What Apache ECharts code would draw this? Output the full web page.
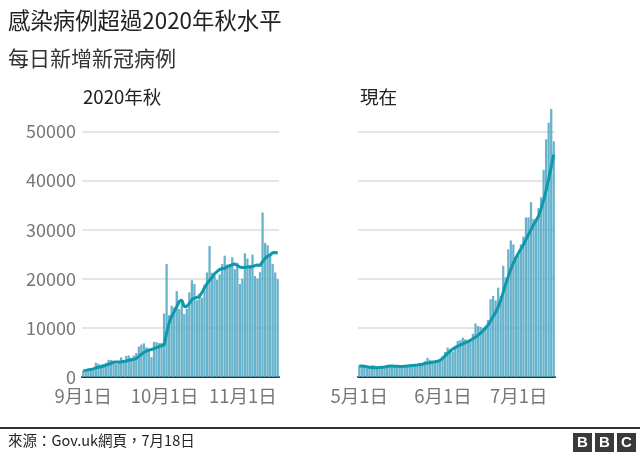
<!DOCTYPE html>
<html>
<head>
<meta charset="utf-8">
<script src="https://cdn.jsdelivr.net/npm/echarts@6/dist/echarts.min.js"></script>
<style>
html, body { margin: 0; padding: 0; background: #fff; }
#chart { width: 640px; height: 453px; }
</style>
</head>
<body>
<div id="chart"></div>
<script>
let autumnMonths = [[9, 30], [10, 31], [11, 17]];
let nowMonths = [[5, 31], [6, 30], [7, 17]];
let autumnTicks = ["9月1日", "10月1日", "11月1日"];
let nowTicks = ["5月1日", "6月1日", "7月1日"];

let autumnCases = [
    1300, 1500, 1700, 1800, 1800, 2900, 2700, 2500, 2650, 2900,
    3500, 3450, 3300, 2650, 3100, 4000, 3400, 4300, 4400, 3900,
    4350, 4900, 6200, 6600, 6850, 6050, 5700, 4050, 7150, 7100,
    6900, 6950, 12900, 23000, 12600, 14500, 14150, 17500, 13850, 15150,
    12850, 13950, 17250, 19700, 18950, 15650, 17000, 16150, 18800, 21300,
    26700, 21250, 20550, 19800, 20900, 23000, 24700, 22900, 23050, 24400,
    21950, 23250, 18950, 20000, 25200, 24150, 22800, 24950, 20550, 20050,
    21350, 33500, 27300, 26850, 25000, 23000, 21300, 19900
];
let autumnAverage = [
    1300, 1350, 1450, 1550, 1650, 1850, 1980, 2100, 2250, 2400,
    2600, 2800, 3000, 3050, 3050, 3050, 3150, 3250, 3400, 3500,
    3600, 3800, 4200, 4600, 5000, 5300, 5500, 5600, 5800, 6000,
    6200, 6400, 6500, 9000, 11000, 12400, 13300, 14300, 15400, 15700,
    14300, 14400, 15000, 15800, 16100, 16200, 16400, 17200, 18200, 19000,
    19700, 20300, 21000, 21500, 21900, 22100, 22100, 22500, 22600, 22900,
    23000, 22700, 22400, 22300, 22300, 22400, 22400, 22500, 22700, 22800,
    22700, 23500, 24200, 24600, 24900, 25300, 25350, 25250
];
let nowCases = [
    2300, 2350, 2100, 2000, 1950, 2400, 2350, 2200, 2100, 2150,
    2150, 2300, 2250, 2450, 2300, 2150, 2100, 2200, 2250, 2350,
    2450, 2550, 2500, 2550, 2600, 2700, 3200, 3900, 3500, 3300,
    3200, 3100, 3300, 4200, 5100, 6000, 5600, 5200, 6300, 7350,
    7500, 8000, 7700, 7400, 7600, 8800, 10900, 10400, 10200, 10000,
    10400, 11600, 15850, 16500, 15600, 18200, 16500, 22650, 20300, 26000,
    27800, 27000, 24000, 24800, 27000, 28600, 32500, 32500, 35600, 32200,
    31800, 34400, 36600, 42200, 48400, 51800, 54600, 48000
];
let nowAverage = [
    2250, 2250, 2200, 2100, 2000, 1950, 1900, 1900, 1950, 2000,
    2050, 2150, 2250, 2250, 2200, 2200, 2150, 2150, 2200, 2250,
    2300, 2350, 2400, 2450, 2550, 2600, 2750, 2850, 2900, 3000,
    3100, 3200, 3400, 3800, 4300, 4800, 5300, 5700, 6000, 6300,
    6500, 6750, 7000, 7200, 7500, 7800, 8100, 8500, 8900, 9400,
    10000, 10600, 11400, 12300, 13200, 14300, 15600, 17300, 19000, 20500,
    22000, 23200, 24300, 25200, 26100, 27000, 28000, 29000, 30000, 31000,
    31900, 32800, 34300, 36000, 38100, 40300, 42800, 45300
];

const cjk = '"Noto Sans CJK TC", "Noto Sans", sans-serif';

function makeDays(months) {
    let days = [];
    months.forEach(([month, count]) => {
        for (let d = 1; d <= count; d++) {
            days.push(`${month}月${d}日`);
        }
    });
    return days;
}

// the later month labels sit a little to the right of their ticks
function makeCategories(days, ticks) {
    return days.map(day => {
        let pos = ticks.indexOf(day);
        return pos > 0 ? { value: day, textStyle: { padding: [0, 0, 0, 11] } } : { value: day };
    });
}

function makeXAxis(gridIndex, days, ticks) {
    let isTick = i => ticks.includes(days[i]);
    return {
        type: "category",
        gridIndex: gridIndex,
        data: makeCategories(days, ticks),
        axisLine: { lineStyle: { color: "#333", width: 2 } },
        axisTick: { alignWithLabel: true, interval: isTick, length: 7, lineStyle: { color: "#888", width: 1.5 } },
        axisLabel: { interval: isTick, color: "#777", fontSize: 18.5, fontFamily: cjk, margin: 10, hideOverlap: false }
    };
}

function makeYAxis(gridIndex, showLabels) {
    return {
        type: "value",
        gridIndex: gridIndex,
        min: 0,
        max: 55000,
        interval: 10000,
        axisLine: { show: false },
        axisTick: { show: false },
        axisLabel: { show: showLabels, showMaxLabel: false, color: "#777", fontSize: 18, fontFamily: cjk, margin: 6, formatter: val => String(val) },
        splitLine: { showMaxLine: false, lineStyle: { color: "#dcdcdc", width: 1.5 } }
    };
}

function makeBars(index, values) {
    return {
        type: "bar",
        xAxisIndex: index,
        yAxisIndex: index,
        data: values,
        barCategoryGap: "10%",
        itemStyle: { color: "#5aadc7", opacity: 0.92 },
        silent: true,
        animation: false
    };
}

function makeLine(index, values) {
    return {
        type: "line",
        xAxisIndex: index,
        yAxisIndex: index,
        data: values,
        showSymbol: false,
        lineStyle: { color: "#0f97ab", width: 3 },
        z: 5,
        silent: true,
        animation: false
    };
}

function headText(x, y, text, size, color) {
    return {
        type: "text",
        x: x,
        y: y,
        silent: true,
        style: { text: text, fill: color, font: `${size}px ${cjk}`, textVerticalAlign: "middle" }
    };
}

function logoBox(x, letter) {
    return [
        { type: "rect", shape: { x: x, y: 433, width: 19, height: 19 }, style: { fill: "#3a3a3a" }, silent: true },
        { type: "text", x: x + 9.5, y: 443, silent: true,
          style: { text: letter, fill: "#fff", font: "bold 15px Arial, 'Liberation Sans', sans-serif", textAlign: "center", textVerticalAlign: "middle" } }
    ];
}

var myChart = echarts.init(document.getElementById("chart"), null, { renderer: "canvas" });
myChart.setOption({
    backgroundColor: "#fff",
    animation: false,
    grid: [
        { left: 82, top: 107, width: 197, height: 270 },
        { left: 358, top: 107, width: 197, height: 270 }
    ],
    xAxis: [
        makeXAxis(0, makeDays(autumnMonths), autumnTicks),
        makeXAxis(1, makeDays(nowMonths), nowTicks)
    ],
    yAxis: [makeYAxis(0, true), makeYAxis(1, false)],
    series: [
        makeBars(0, autumnCases),
        makeLine(0, autumnAverage),
        makeBars(1, nowCases),
        makeLine(1, nowAverage)
    ],
    graphic: [
        headText(8, 20, "感染病例超過2020年秋水平", 22.4, "#222"),
        headText(8, 58, "每日新增新冠病例", 21, "#333"),
        headText(83, 97, "2020年秋", 18.6, "#222"),
        headText(360, 97, "現在", 18.6, "#222"),
        { type: "rect", shape: { x: 0, y: 427, width: 640, height: 2 }, style: { fill: "#333" }, silent: true },
        headText(8, 440, "來源：Gov.uk網頁，7月18日", 14.5, "#222"),
        ...logoBox(573, "B"),
        ...logoBox(595, "B"),
        ...logoBox(617, "C")
    ]
});
</script>
</body>
</html>
